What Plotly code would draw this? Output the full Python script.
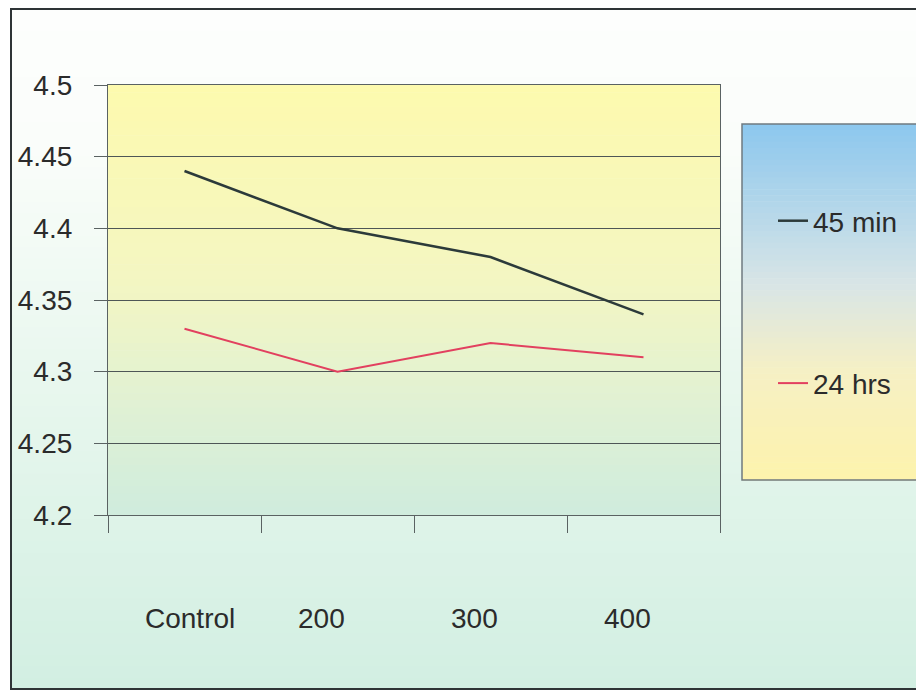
import plotly.graph_objects as go

# ---- data ----
categories = ["Control", "200", "300", "400"]
series_names = ["45 min", "24 hrs"]
values_45min = [4.44, 4.40, 4.38, 4.34]
values_24hrs = [4.33, 4.30, 4.32, 4.31]
y_tickvals = [4.2, 4.25, 4.3, 4.35, 4.4, 4.45, 4.5]
y_ticktext = ["4.2", "4.25", "4.3", "4.35", "4.4", "4.45", "4.5"]

# ---- layout geometry (pixels) ----
W, H = 916, 692
ML, MR, MT, MB = 108, 196, 85, 177
PW, PH = W - ML - MR, H - MT - MB
FONT = "Liberation Sans, Arial, sans-serif"
TXT = "#2b2b2b"


def px_x(x):
    return (x - ML) / PW


def px_y(y):
    return 1 - (y - MT) / PH


def lerp_stops(stops, t):
    for (t0, c0), (t1, c1) in zip(stops, stops[1:]):
        if t <= t1:
            f = 0 if t1 == t0 else (t - t0) / (t1 - t0)
            return tuple(round(a + (b - a) * f) for a, b in zip(c0, c1))
    return stops[-1][1]


def gradient_bands(x0, x1, y0, y1, stops, n=60):
    """Vertical gradient from y0 (top, px) to y1 (bottom, px) as stacked rects."""
    out = []
    for i in range(n):
        t = (i + 0.5) / n
        r, g, b = lerp_stops(stops, t)
        ya = y0 + (y1 - y0) * i / n
        yb = y0 + (y1 - y0) * (i + 1) / n + 0.6
        out.append(dict(type="rect", xref="paper", yref="paper",
                        x0=px_x(x0), x1=px_x(x1), y0=px_y(yb), y1=px_y(ya),
                        fillcolor=f"rgb({r},{g},{b})", line=dict(width=0),
                        layer="below"))
    return out


shapes = []
# outer panel background
shapes += gradient_bands(11, 940, 9, 689,
                         [(0, (253, 254, 253)), (0.2, (250, 253, 250)),
                          (0.55, (232, 247, 238)), (1, (210, 239, 226))])
# plot area background
shapes += gradient_bands(ML, ML + PW, MT, MT + PH,
                         [(0, (253, 250, 174)), (0.45, (244, 246, 194)),
                          (0.75, (224, 241, 212)), (1, (207, 236, 221))])
# legend box background
shapes += gradient_bands(742, 940, 124, 480,
                         [(0, (140, 199, 238)), (0.45, (216, 229, 230)),
                          (0.7, (246, 240, 196)), (1, (253, 243, 172))])
# legend box border
shapes.append(dict(type="rect", xref="paper", yref="paper",
                   x0=px_x(742), x1=px_x(940), y0=px_y(480), y1=px_y(124),
                   line=dict(color="#6f7a80", width=1.5), layer="below"))
# outer frame
shapes.append(dict(type="rect", xref="paper", yref="paper",
                   x0=px_x(11), x1=px_x(940), y0=px_y(689), y1=px_y(9),
                   line=dict(color="#2e3436", width=2), layer="below"))

fig = go.Figure()
fig.add_trace(go.Scatter(x=categories, y=values_45min, name=series_names[0],
                         mode="lines", legendgroup="a",
                         line=dict(color="#2c3a3a", width=2.5)))
fig.add_trace(go.Scatter(x=categories, y=values_24hrs, name=series_names[1],
                         mode="lines", legendgroup="b",
                         line=dict(color="#e2405f", width=2)))

# category labels set well below the axis (placed by category index)
annotations = []
for i, c in enumerate(categories):
    annotations.append(dict(x=i, xref="x", y=px_y(618), yref="paper",
                            text=c, showarrow=False, xanchor="left",
                            yanchor="middle", xshift=-42,
                            font=dict(family=FONT, size=28, color=TXT)))

fig.update_layout(
    width=W, height=H,
    margin=dict(l=ML, r=MR, t=MT, b=MB),
    paper_bgcolor="white",
    plot_bgcolor="rgba(0,0,0,0)",
    font=dict(family=FONT, size=28, color=TXT),
    shapes=shapes,
    annotations=annotations,
    showlegend=True,
    legend=dict(x=px_x(773), y=px_y(196), xanchor="left", yanchor="top",
                bgcolor="rgba(0,0,0,0)", borderwidth=0,
                traceorder="grouped", tracegroupgap=123,
                font=dict(family=FONT, size=28, color=TXT)),
)
fig.update_xaxes(type="category", range=[-0.5, 3.5], showgrid=False,
                 showline=True, linecolor="#5a6262", linewidth=1.2, mirror=True,
                 ticks="outside", tickson="boundaries", ticklen=17,
                 tickcolor="#5a6262", showticklabels=False, zeroline=False)
fig.update_yaxes(range=[4.2, 4.5], tickvals=y_tickvals, ticktext=y_ticktext,
                 showgrid=True, gridcolor="#4e5656", gridwidth=1,
                 showline=True, linecolor="#5a6262", linewidth=1.2, mirror=True,
                 ticks="outside", ticklen=13, tickcolor="#5a6262",
                 ticklabelstandoff=16, zeroline=False,
                 tickfont=dict(family=FONT, size=28, color=TXT))

fig.write_html("out.html")
